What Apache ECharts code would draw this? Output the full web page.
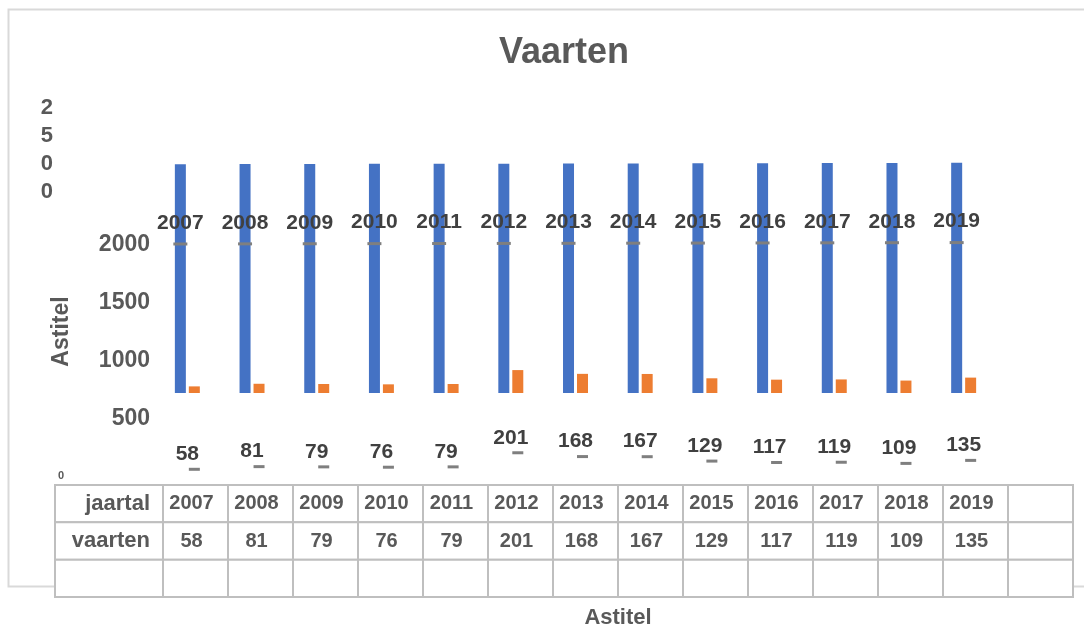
<!DOCTYPE html>
<html>
<head>
<meta charset="utf-8">
<title>Vaarten</title>
<script src="https://cdn.jsdelivr.net/npm/echarts@6/dist/echarts.min.js"></script>
<style>
    html, body { margin: 0; padding: 0; background: #fff; }
    #chart { width: 1084px; height: 630px; }
</style>
</head>
<body>
<div id="chart"></div>
<script>
    // gegevens
    var jaren = ['2007', '2008', '2009', '2010', '2011', '2012', '2013', '2014', '2015', '2016', '2017', '2018', '2019'];
    var jaartal = [2007, 2008, 2009, 2010, 2011, 2012, 2013, 2014, 2015, 2016, 2017, 2018, 2019];
    var vaarten = [58, 81, 79, 76, 79, 201, 168, 167, 129, 117, 119, 109, 135];
    var yTicks = [0, 500, 1000, 1500, 2000, 2500];
    var rijNamen = ['jaartal', 'vaarten', ''];

    var font = '"Liberation Sans", Arial, sans-serif';
    var grijs = '#595959';
    var lijn = '#bfbfbf';
    var yMax = yTicks[yTicks.length - 1];

    // tabel cellen: [kolom, rij]
    var kolommen = jaren.concat(['']);
    var cellen = [];
    var cellTekst = [];
    for (var i = 0; i < kolommen.length; i++) {
        cellen.push([i, 0]); cellTekst.push(kolommen[i]);
        cellen.push([i, 1]); cellTekst.push(i < vaarten.length ? String(vaarten[i]) : '');
        cellen.push([i, 2]); cellTekst.push('');
    }
    var kopCellen = [[0, 0], [0, 1], [0, 2]];

    function tekenCel(tekstLijst, uitlijning, grootte) {
        return function (params, api) {
            var p = api.coord([api.value(0), api.value(1)]);
            var s = api.size([1, 1]);
            var x0 = p[0] - s[0] / 2, y0 = p[1] - s[1] / 2;
            return {
                type: 'group',
                children: [{
                    type: 'rect',
                    shape: { x: x0, y: y0, width: s[0], height: s[1] },
                    style: { fill: '#fff', stroke: lijn, lineWidth: 2 }
                }, {
                    type: 'text',
                    style: {
                        text: tekstLijst[params.dataIndex],
                        x: uitlijning === 'right' ? x0 + s[0] - 13 : p[0] - 4,
                        y: p[1],
                        align: uitlijning,
                        verticalAlign: 'middle',
                        fontFamily: font,
                        fontWeight: 'bold',
                        fontSize: grootte,
                        fill: grijs
                    }
                }]
            };
        };
    }

    var labelRich = {
        b: { fontFamily: font, fontWeight: 'bold', fontSize: 21, color: '#404040' }
    };

    var chart = echarts.init(document.getElementById('chart'));
    var option = {
        backgroundColor: '#fff',
        animation: false,
        title: {
            text: 'Vaarten',
            left: 494,
            top: 30,
            textStyle: { fontFamily: font, fontWeight: 'bold', fontSize: 36, color: grijs }
        },
        graphic: [{
            type: 'polyline',
            shape: { points: [[1084, 9.5], [8.5, 9.5], [8.5, 586.5], [1084, 586.5]] },
            style: { stroke: '#d9d9d9', lineWidth: 2, fill: null },
            z: -10
        }],
        grid: [
            { left: 155, right: 88, top: 187, bottom: 154, outerBoundsMode: 'none' },   // zichtbare as
            { left: 155, right: 88, top: 108, bottom: 237, outerBoundsMode: 'none' },   // staven
            { left: 163, right: 11, top: 485, bottom: 33, outerBoundsMode: 'none' },    // tabel
            { left: 55, right: 921, top: 485, bottom: 33, outerBoundsMode: 'none' }     // tabel kop
        ],
        xAxis: [
            { gridIndex: 0, type: 'category', data: jaren, axisLine: { show: false }, axisTick: { show: false }, axisLabel: { show: false } },
            { gridIndex: 1, type: 'category', data: jaren, show: false },
            {
                gridIndex: 2, type: 'category', data: kolommen, show: true,
                axisLine: { show: false }, axisTick: { show: false }, axisLabel: { show: false },
                name: 'Astitel', nameLocation: 'middle', nameGap: 10, nameMoveOverlap: false,
                nameTextStyle: { fontFamily: font, fontWeight: 'bold', fontSize: 22, color: grijs }
            },
            { gridIndex: 3, type: 'category', data: [''], show: false }
        ],
        yAxis: [
            {
                gridIndex: 0, type: 'value', min: yTicks[0], max: yMax, interval: 500,
                axisLine: { show: false }, axisTick: { show: false }, splitLine: { show: false },
                name: 'Astitel', nameLocation: 'middle', nameGap: 82, nameRotate: 90, nameMoveOverlap: false,
                nameTextStyle: { fontFamily: font, fontWeight: 'bold', fontSize: 23, color: grijs },
                axisLabel: {
                    margin: 5, showMinLabel: true, showMaxLabel: true,
                    fontFamily: font, fontWeight: 'bold', fontSize: 23, color: grijs,
                    formatter: function (v) {
                        if (v === yMax) return '';
                        if (v === 0) return '{klein|0}';
                        return String(v);
                    },
                    rich: {
                        klein: { fontFamily: font, fontWeight: 'bold', fontSize: 11, color: grijs, padding: [0, 86, 0, 0] }
                    }
                }
            },
            { gridIndex: 1, type: 'value', min: 0, max: yMax, show: false },
            { gridIndex: 2, type: 'category', data: rijNamen, inverse: true, show: false },
            { gridIndex: 3, type: 'category', data: rijNamen, inverse: true, show: false },
            {
                // alleen het bovenste label, verticaal gestapeld
                gridIndex: 0, type: 'value', position: 'left', min: yTicks[0], max: yMax, interval: 500,
                axisLine: { show: false }, axisTick: { show: false }, splitLine: { show: false },
                axisLabel: {
                    margin: 5, showMaxLabel: true,
                    formatter: function (v) {
                        if (v !== yMax) return '';
                        return String(v).split('').map(function (c) { return '{st|' + c + '}'; }).join('\n') + '\n{gap| }\n{gap| }\n{gap| }';
                    },
                    rich: {
                        st: { fontFamily: font, fontWeight: 'bold', fontSize: 22, color: grijs, lineHeight: 28, padding: [0, 97, 0, 0] },
                        gap: { fontSize: 10, lineHeight: 25 }
                    }
                }
            }
        ],
        series: [
            {
                name: 'jaartal', type: 'bar', xAxisIndex: 1, yAxisIndex: 1,
                data: jaartal, barWidth: 11, barGap: '27%',
                itemStyle: { color: '#4472c4' }
            },
            {
                name: 'vaarten', type: 'bar', xAxisIndex: 1, yAxisIndex: 1,
                data: vaarten, barWidth: 11, barGap: '27%',
                itemStyle: { color: '#ed7d31' }
            },
            {
                name: 'jaartal label', type: 'scatter', xAxisIndex: 0, yAxisIndex: 0,
                data: jaartal, symbol: 'rect', symbolSize: [14, 3], symbolOffset: [-7, 0],
                itemStyle: { color: '#7f7f7f', opacity: 1 }, z: 5,
                label: {
                    show: true, position: 'top', distance: 9,
                    formatter: '{b|{c}}', rich: labelRich
                }
            },
            {
                name: 'vaarten label', type: 'scatter', xAxisIndex: 0, yAxisIndex: 0,
                data: vaarten, symbol: 'rect', symbolSize: [11, 3], symbolOffset: [7, 0],
                itemStyle: { color: '#7f7f7f', opacity: 1 }, z: 5,
                label: {
                    show: true, position: 'top', distance: 3, offset: [-7, 0],
                    formatter: '{b|{c}}', rich: labelRich
                }
            },
            {
                type: 'custom', xAxisIndex: 2, yAxisIndex: 2,
                data: cellen, renderItem: tekenCel(cellTekst, 'center', 20), z: 3
            },
            {
                type: 'custom', xAxisIndex: 3, yAxisIndex: 3,
                data: kopCellen, renderItem: tekenCel(rijNamen, 'right', 22), z: 3
            }
        ]
    };
    chart.setOption(option);
</script>
</body>
</html>
